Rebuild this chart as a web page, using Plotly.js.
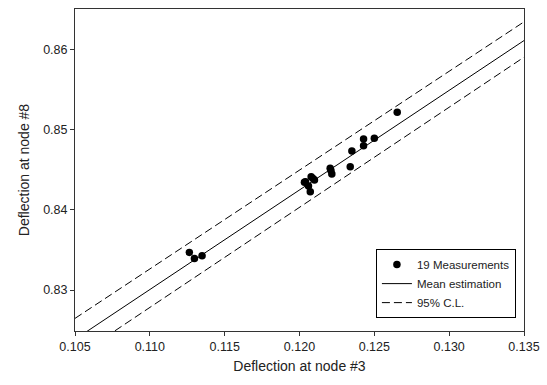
<!DOCTYPE html>
<html>
<head>
<meta charset="utf-8">
<script src="https://cdn.plot.ly/plotly-3.0.1.min.js"></script>
<style>html,body{margin:0;padding:0;background:#fff;}#chart{width:547px;height:385px;}</style>
</head>
<body>
<div id="chart"></div>
<script>
// Measurements (deflection at node #3 vs node #8)
const measX = [0.11264, 0.11298, 0.11349,
               0.12033, 0.12040, 0.12078, 0.12090, 0.12100, 0.12060, 0.12072,
               0.12205, 0.12210, 0.12216, 0.12339, 0.12350,
               0.12428, 0.12428, 0.12500, 0.12653];
const measY = [0.83469, 0.83394, 0.83426,
               0.84342, 0.84350, 0.84411, 0.84390, 0.84370, 0.84295, 0.84224,
               0.84516, 0.84490, 0.84445, 0.84536, 0.84732,
               0.84882, 0.84798, 0.84890, 0.85214];
// Regression line and 95% confidence limits
const lineX = [0.105, 0.135];
const meanY = [0.82386, 0.86107];
const upperY = [0.82647, 0.86340];
const lowerY = [0.82160, 0.85900];

const xTicks = [0.105, 0.110, 0.115, 0.120, 0.125, 0.130, 0.135];
const xTickText = ['0.105', '0.110', '0.115', '0.120', '0.125', '0.130', '0.135'];
const yTicks = [0.83, 0.84, 0.85, 0.86];
const yTickText = ['0.83', '0.84', '0.85', '0.86'];

const font = 'Liberation Sans, Arial, sans-serif';

const traces = [
  {x: measX, y: measY, mode: 'markers', type: 'scatter', name: '19 Measurements',
   marker: {color: '#000', size: 7.5}},
  {x: lineX, y: meanY, mode: 'lines', type: 'scatter', name: 'Mean estimation',
   line: {color: '#000', width: 1}},
  {x: lineX, y: upperY, mode: 'lines', type: 'scatter', name: '95% C.L.',
   line: {color: '#000', width: 1, dash: '8px,4px'}},
  {x: lineX, y: lowerY, mode: 'lines', type: 'scatter', name: '95% C.L.', showlegend: false,
   line: {color: '#000', width: 1, dash: '8px,4px'}}
];

const layout = {
  width: 547, height: 385,
  margin: {l: 75, r: 23, t: 9, b: 54},
  paper_bgcolor: '#fff', plot_bgcolor: '#fff',
  font: {family: font, size: 12, color: '#000'},
  showlegend: true,
  xaxis: {
    range: [0.105, 0.135], tickvals: xTicks, ticktext: xTickText,
    showgrid: false, zeroline: false, showline: true, mirror: true,
    linecolor: '#333', linewidth: 1, ticks: 'outside', ticklen: 4, tickcolor: '#333',
    tickfont: {family: font, size: 12.5, color: '#222'},
    title: {text: 'Deflection at node #3', font: {family: font, size: 14, color: '#222'}, standoff: 8}
  },
  yaxis: {
    range: [0.8249, 0.8650], tickvals: yTicks, ticktext: yTickText,
    showgrid: false, zeroline: false, showline: true, mirror: true,
    linecolor: '#333', linewidth: 1, ticks: 'outside', ticklen: 4, tickcolor: '#333',
    tickfont: {family: font, size: 12.5, color: '#222'},
    title: {text: 'Deflection at node #8', font: {family: font, size: 14, color: '#222'}, standoff: 10}
  },
  legend: {
    x: 0.982, xanchor: 'right', y: 0.04, yanchor: 'bottom',
    bordercolor: '#000', borderwidth: 1, bgcolor: '#fff',
    font: {family: font, size: 11.5, color: '#222'},
    itemwidth: 30, tracegroupgap: 0
  }
};

Plotly.newPlot('chart', traces, layout, {displayModeBar: false, staticPlot: true});
</script>
</body>
</html>
